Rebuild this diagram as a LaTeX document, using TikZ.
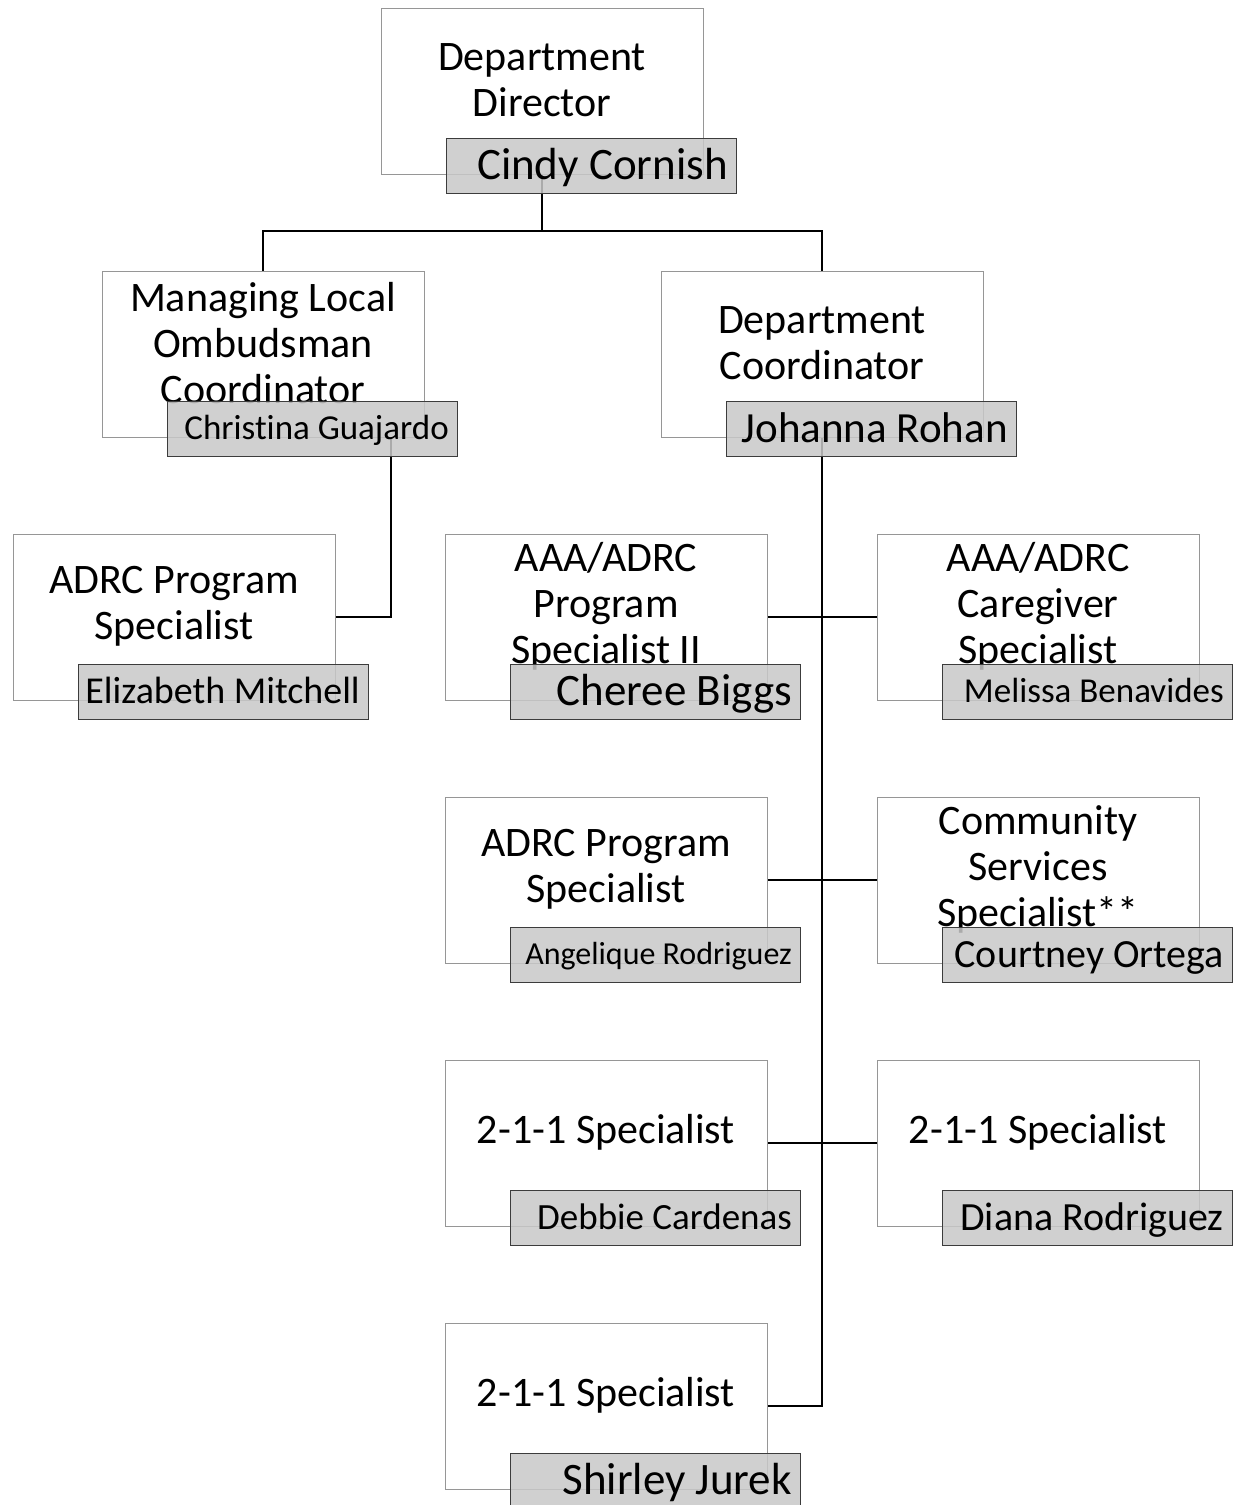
\documentclass[tikz,border=0pt]{standalone}
\usepackage{fontspec}
\setmainfont{Carlito}[Ligatures=NoCommon]
\usetikzlibrary{calc,backgrounds}

\definecolor{titleedge}{RGB}{150,150,150}
\definecolor{nameedge}{RGB}{60,60,60}
\definecolor{namefill}{RGB}{200,200,200}

\tikzset{
  titlebox/.style={draw=titleedge,line width=1pt,fill=white,anchor=north west,
    minimum width=322pt,minimum height=166pt,inner sep=0pt,outer sep=0pt},
  titletext/.style={align=center,inner sep=0pt,font=\fontsize{42}{46}\selectfont},
  namebox/.style={draw=nameedge,line width=1pt,fill=namefill,fill opacity=0.85,
    anchor=north west,minimum width=290pt,minimum height=55pt,inner sep=0pt,outer sep=0pt},
  nametext/.style={inner sep=0pt,anchor=base east},
  link/.style={line width=2.6pt,black}
}

% #1 node, #2 top left, #3 title, #4 person, #5 size of the person's name
\newcommand{\orgunit}[5]{%
  \node[titlebox] (#1) at (#2) {};
  \node[titletext] (#1x) at ($(#1.north)+(0,72.5)$) {#3};
  \node[namebox] (#1n) at ($(#1.north west)+(65,130)$) {};
  \node[nametext,font=\fontsize{#5}{#5}\selectfont] (#1t) at ($(#1n.east)+(-8,0.316*#5)$) {#4};
}

\begin{document}
\begin{tikzpicture}[x=1pt,y=-1pt]
	\useasboundingbox (0,0) rectangle (1235,1505);

	\orgunit{dd}{381,8}{Department\\Director}{Cindy Cornish}{45}
	\orgunit{mc}{102,271}{Managing Local\\Ombudsman\\Coordinator}{Christina Guajardo}{35}
	\orgunit{dc}{661,271}{Department\\Coordinator}{Johanna Rohan}{43}
	\orgunit{as}{13,534}{ADRC Program\\Specialist}{Elizabeth Mitchell}{38}
	\orgunit{ap}{445,534}{AAA/ADRC\\Program\\Specialist II}{Cheree Biggs}{45}
	\orgunit{ac}{877,534}{AAA/ADRC\\Caregiver\\Specialist}{Melissa Benavides}{35}
	\orgunit{ad}{445,797}{ADRC Program\\Specialist}{Angelique Rodriguez}{32}
	\orgunit{cs}{877,797}{Community\\Services\\Specialist**}{Courtney Ortega}{40}
	\orgunit{sa}{445,1060}{2-1-1 Specialist}{Debbie Cardenas}{37}
	\orgunit{sb}{877,1060}{2-1-1 Specialist}{Diana Rodriguez}{40}
	\orgunit{sc}{445,1323}{2-1-1 Specialist}{Shirley Jurek}{45}

	\coordinate (ddjoin) at ($(dd.south)+(0,57)$);
	\coordinate (mcdrop) at ($(mc.south east)+(-33,0)$);

	\begin{scope}[on background layer]
		\draw[link] (dd.south) -- (ddjoin);
		\draw[link] (mc.north) |- (ddjoin) -| (dc.north);
		\draw[link] (mcdrop) |- (as.east);
		\draw[link] (dc.south) |- (sc.east);
		\draw[link] (ap.east) -- (ac.west);
		\draw[link] (ad.east) -- (cs.west);
		\draw[link] (sa.east) -- (sb.west);
	\end{scope}
\end{tikzpicture}
\end{document}
